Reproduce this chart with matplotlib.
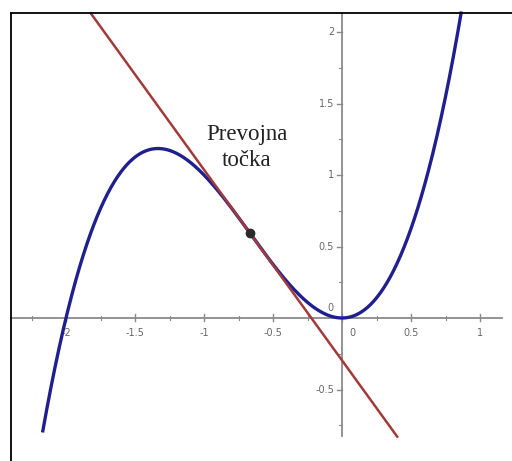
import numpy as np
import matplotlib
matplotlib.use("Agg")
import matplotlib.pyplot as plt
from matplotlib.lines import Line2D

# Cubic f(x) = x^3 + 2x^2 and its tangent at the inflection point
coeffs = [1.0, 2.0, 0.0, 0.0]
x_curve_range = [-2.17, 0.865]
x_tangent_range = [-1.82, 0.40]

x_major = [-2.0, -1.5, -1.0, -0.5, 0.0, 0.5, 1.0]
x_minor = [-2.25, -1.75, -1.25, -0.75, -0.25, 0.25, 0.75]
x_labels = ["-2", "-1.5", "-1", "-0.5", "0", "0.5", "1"]
y_major = [-0.5, 0.5, 1.0, 1.5, 2.0]
y_minor = [-0.75, -0.25, 0.25, 0.75, 1.25, 1.75]
y_labels = ["-0.5", "0.5", "1", "1.5", "2"]
annotation = "Prevojna\ntočka"

W, H = 512, 461
fig = plt.figure(figsize=(W / 100, H / 100), dpi=100)
ax = fig.add_axes([0, 0, 1, 1])

# pixel geometry of the coordinate system
x0_px, y0_px = 342.0, 318.0
sx, sy = 138.0, 143.0
ax.set_xlim((0 - x0_px) / sx, (W - x0_px) / sx)
ax.set_ylim((y0_px - H) / sy, (y0_px - 0) / sy)
ax.axis("off")

axis_col = "#8a8a8a"
label_col = "#666666"

# axes lines
ax.plot([(11 - x0_px) / sx, (502 - x0_px) / sx], [0, 0], color=axis_col, lw=1.3, zorder=1)
ax.plot([0, 0], [(y0_px - 436) / sy, (y0_px - 13) / sy], color=axis_col, lw=1.3, zorder=1)

# x ticks
tx = 3.0 / sy
for v in x_major:
    ax.plot([v, v], [-tx, tx * 1.2], color=axis_col, lw=1.0, zorder=1)
for v in x_minor:
    ax.plot([v, v], [-tx * 0.6, tx * 0.8], color=axis_col, lw=0.8, zorder=1)
for v, s in zip(x_major, x_labels):
    xx = v + (10 / sx if v == 0 else 0)
    ax.text(xx, -15 / sy, s, ha="center", va="center", fontsize=7,
            color=label_col, zorder=2)

# y ticks
ty = 5.0 / sx
for v in y_major:
    ax.plot([-ty, 0], [v, v], color=axis_col, lw=1.0, zorder=1)
for v in y_minor:
    ax.plot([-ty * 0.6, 0], [v, v], color=axis_col, lw=0.8, zorder=1)
for v, s in zip(y_major, y_labels):
    ax.text(-8 / sx, v, s, ha="right", va="center", fontsize=7,
            color=label_col, zorder=2)
ax.text(-12 / sx, 10 / sy, "0", ha="center", va="center", fontsize=7,
        color=label_col, zorder=0)

# cubic curve
p = np.poly1d(coeffs)
xs = np.linspace(x_curve_range[0], x_curve_range[1], 600)
ax.plot(xs, p(xs), color="#1f1f8f", lw=2.4, solid_capstyle="butt", zorder=3)

# inflection point and tangent line
dp, d2p = p.deriv(), p.deriv(2)
x_inf = d2p.r[0]
y_inf = p(x_inf)
slope = dp(x_inf)
xt = np.array(x_tangent_range)
ax.plot(xt, y_inf + slope * (xt - x_inf), color="#a33a3a", lw=1.8, zorder=4)
ax.plot([x_inf], [y_inf], "o", color="#2a2a2a", ms=6, zorder=5)

ax.text(x_inf - 3 / sx, y_inf + 86 / sy, annotation, ha="center", va="center",
        fontsize=16.5, family="Liberation Serif", color="#222222",
        linespacing=1.3, zorder=6)

# frame (left and top edges)
fig.add_artist(Line2D([11 / W, 11 / W], [0, 1 - 13 / H], color="black", lw=1.3,
                      transform=fig.transFigure))
fig.add_artist(Line2D([11 / W, 1], [1 - 13 / H, 1 - 13 / H], color="black", lw=1.3,
                      transform=fig.transFigure))

fig.savefig("out.png", dpi=100, facecolor="white")
